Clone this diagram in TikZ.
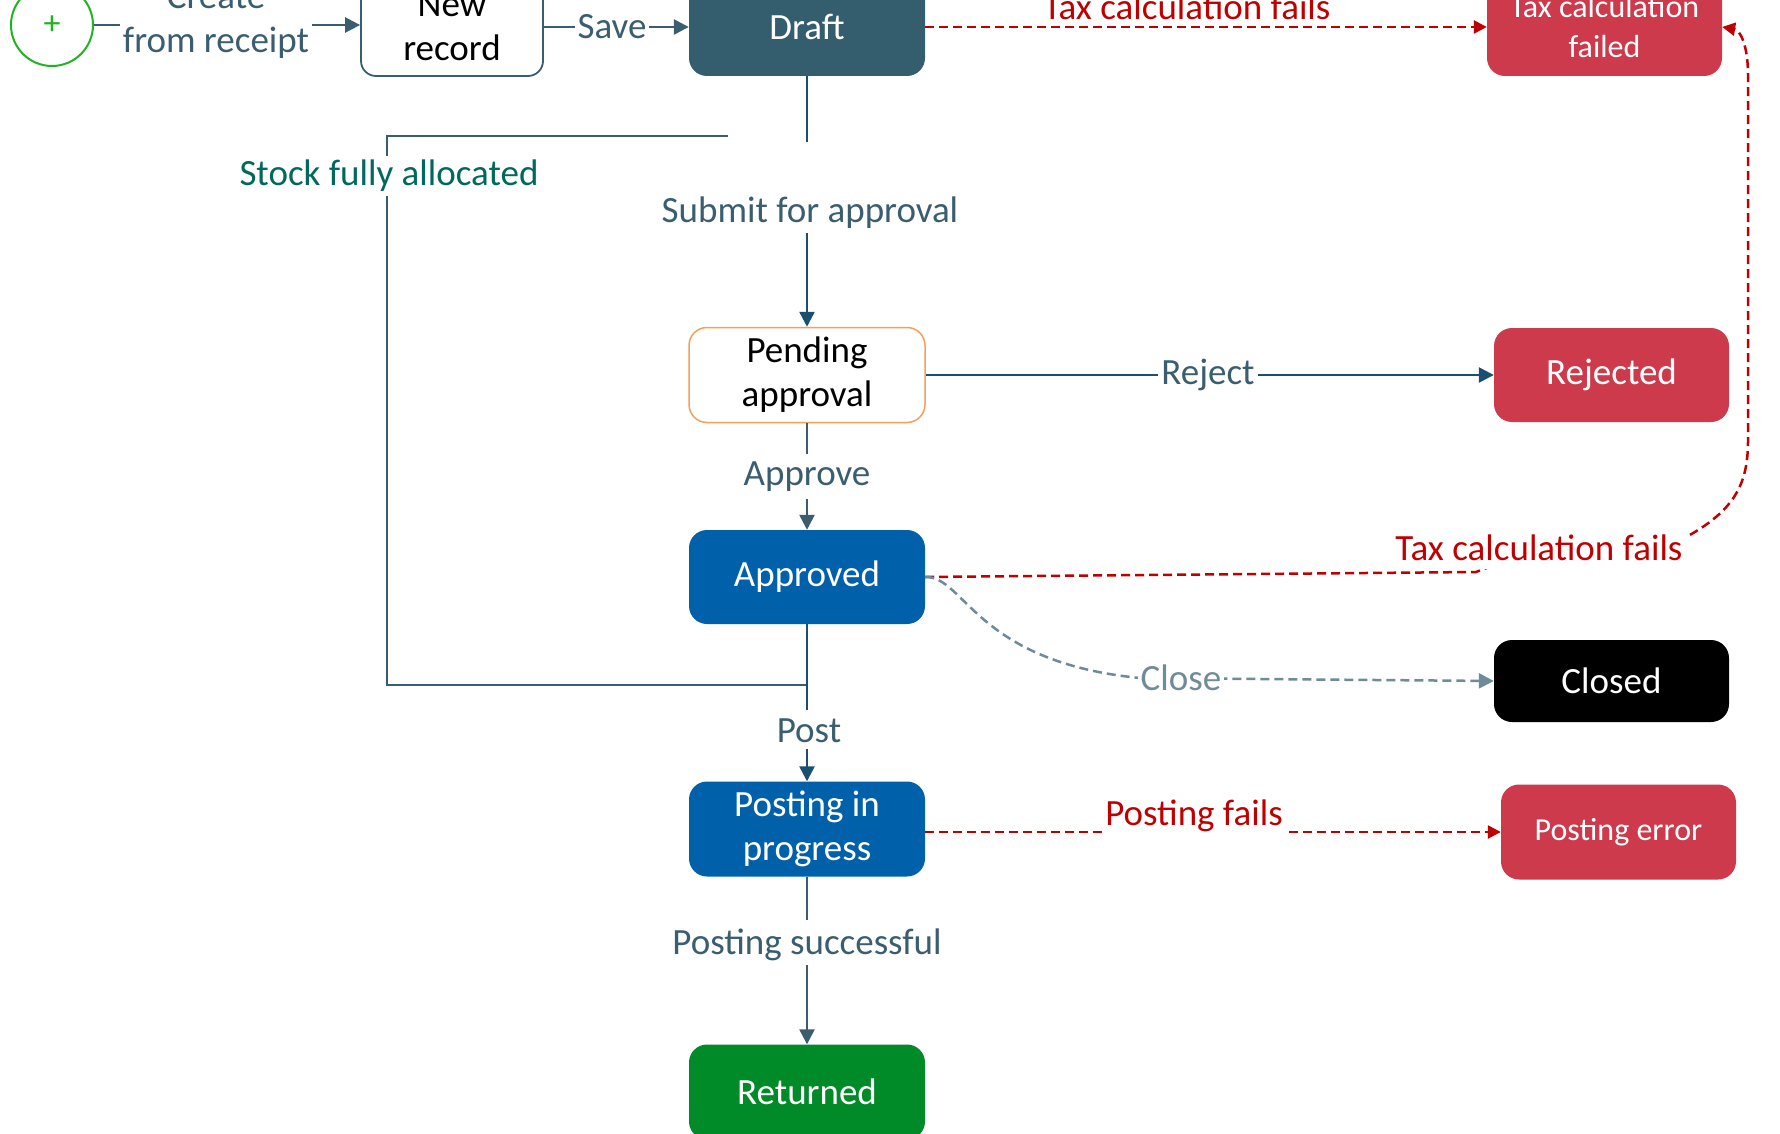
\documentclass[tikz,border=0pt]{standalone}
\usepackage{fontspec}
\setmainfont{Carlito}
\usetikzlibrary{arrows.meta}
\definecolor{slate}{HTML}{3A5E70}
\definecolor{navy}{HTML}{1B4F72}
\definecolor{draftc}{HTML}{345D6E}
\definecolor{bluec}{HTML}{0060A9}
\definecolor{redbox}{HTML}{CD3A4C}
\definecolor{greenc}{HTML}{008A28}
\definecolor{orangec}{HTML}{F5A05A}
\definecolor{redline}{HTML}{C00000}
\definecolor{grayline}{HTML}{6E8B98}
\definecolor{tealc}{HTML}{00695C}
\definecolor{startgreen}{HTML}{22B322}
\begin{document}
\begin{tikzpicture}[x=1pt,y=-1pt,
 state/.style={rectangle, rounded corners=18pt, minimum width=236pt, minimum height=95pt, inner sep=0pt, align=center, text=white, font=\fontsize{37}{44}\selectfont},
 lbl/.style={fill=white, inner xsep=3pt, inner ysep=4pt, text=slate, align=center, font=\fontsize{37}{44}\selectfont},
 arrowend/.style={-{Triangle[length=15pt,width=15pt]}},
 slateline/.style={draw=slate, line width=2.5pt},
 navyline/.style={draw=navy, line width=2.5pt},
 reddash/.style={draw=redline, line width=2.5pt, dash pattern=on 9pt off 5pt, -{Triangle[length=13pt,width=13pt]}},
 graydash/.style={draw=grayline, line width=2.5pt, dash pattern=on 9pt off 5pt, -{Triangle[length=15pt,width=15pt]}},
]
\useasboundingbox (0,0) rectangle (1780,1134);
\clip (0,0) rectangle (1780,1134);
\fill[white] (0,0) rectangle (1780,1134);

% states
\node[circle, draw=startgreen, line width=2pt, fill=white, minimum size=82pt, inner sep=0pt, text=startgreen, font=\fontsize{34}{34}\selectfont] (start) at (52,25) {+};
\node[state, draw=slate, fill=white, text=black, minimum width=182pt, minimum height=98pt, rounded corners=15pt, line width=1.8pt] (new) at (452,27) {New\\record};
\node[state, fill=draftc, minimum height=98pt] (draft) at (807,27) {Draft};
\node[state, fill=redbox, minimum width=235pt, minimum height=98pt, font=\fontsize{32}{40}\selectfont] (taxfailed) at (1604.5,27) {Tax calculation\\failed};
\node[state, draw=orangec, fill=white, text=black, line width=1.5pt] (pending) at (807,375) {Pending\\approval};
\node[state, fill=redbox, minimum width=235pt, minimum height=94pt] (rejected) at (1611.5,375) {Rejected};
\node[state, fill=bluec, minimum height=94pt] (approved) at (807,577) {Approved};
\node[state, fill=black, minimum width=235pt, minimum height=82pt] (closed) at (1611.5,681) {Closed};
\node[state, fill=bluec] (posting) at (807,829) {Posting in\\progress};
\node[state, fill=redbox, minimum width=235pt, font=\fontsize{32}{40}\selectfont] (posterr) at (1618.5,832) {Posting error};
\node[state, fill=greenc] (returned) at (807,1092) {Returned};

% helper coordinates
\coordinate (s1) at (807,142);
\coordinate (s2) at (807,233);
\coordinate (a1) at (807,454);
\coordinate (a2) at (807,499);
\coordinate (p1) at (807,710);
\coordinate (p2) at (807,749);
\coordinate (q1) at (807,920);
\coordinate (q2) at (807,965);
\coordinate (k1) at (728,136);
\coordinate (k2) at (387,136);
\coordinate (k3) at (387,685);
\coordinate (k4) at (807,685);

% connectors
\draw[slateline, arrowend] (start) -- (start -| new.west);
\draw[slateline, arrowend] (new) -- (draft);
\draw[reddash] (draft) -- (taxfailed);
\draw[navyline] (draft.south) -- (s1);
\draw[navyline, arrowend] (s2) -- (pending.north);
\draw[slateline] (k4) -- (k3) -- (k2) -- (k1);
\draw[navyline, arrowend] (pending) -- (rejected);
\draw[slateline] (pending.south) -- (a1);
\draw[slateline, arrowend] (a2) -- (approved.north);
\draw[reddash] (approved.east) -- (1476,572) -- (1539,548) -- (1688,536) .. controls (1738,508) and (1748,480) .. (1748,440) -- (1748,75) .. controls (1748,45) and (1740,30) .. (taxfailed.east);
\draw[graydash] (approved.east) .. controls (965,576) and (975,662) .. (1140,678) -- (closed.west);
\draw[navyline] (approved.south) -- (p1);
\draw[navyline, arrowend] (p2) -- (posting.north);
\draw[reddash] (posting.east |- posterr.west) -- (posterr.west);
\draw[slateline] (posting.south) -- (q1);
\draw[slateline, arrowend] (q2) -- (returned.north);

% labels
\node[lbl] (lcreate) at (216,21) {Create\\from receipt};
\node[lbl] (lsave) at (612,27) {Save};
\node[lbl, text=redline] (ltax1) at (1187,7) {Tax calculation fails};
\node[lbl, text=tealc] (lstock) at (389,176) {Stock fully allocated};
\node[lbl, fill=none] (lsubmit) at (810,213) {Submit for approval};
\node[lbl] (lreject) at (1208,375) {Reject};
\node[lbl, fill=none] (lapprove) at (807,477) {Approve};
\node[lbl, text=redline, inner ysep=8pt] (ltax2) at (1539,548) {Tax calculation fails};
\node[lbl, text=grayline] (lclose) at (1181,678) {Close};
\node[lbl, fill=none] (lpost) at (809,731) {Post};
\node[lbl, text=redline] (lpostfail) at (1194,816) {Posting fails};
\node[lbl, fill=none] (lsucc) at (807,945) {Posting successful};
\end{tikzpicture}
\end{document}
